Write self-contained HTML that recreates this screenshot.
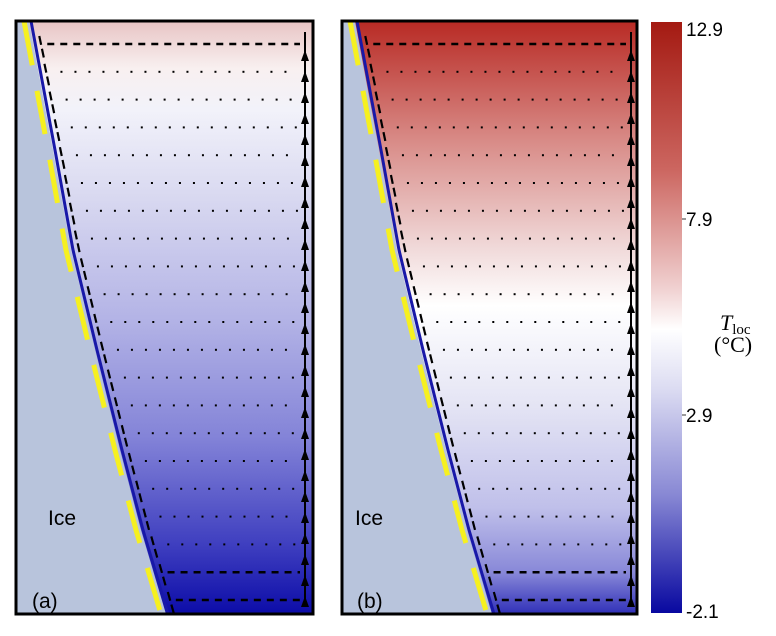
<!DOCTYPE html>
<html><head><meta charset="utf-8"><style>
body{margin:0;background:#fff;width:776px;height:636px;overflow:hidden;font-family:"Liberation Sans",sans-serif}
svg{position:absolute;left:0;top:0}
</style></head><body>
<svg id="s" width="776" height="636" xmlns="http://www.w3.org/2000/svg">
<defs>
<linearGradient id="ga" x1="0" y1="0" x2="0" y2="1">
<stop offset="0" stop-color="#e8c4c4"/><stop offset="0.08" stop-color="#f8f0f0"/><stop offset="0.15" stop-color="#f2f2fa"/>
<stop offset="0.3" stop-color="#d8d8f0"/><stop offset="0.5" stop-color="#b4b4e6"/><stop offset="0.7" stop-color="#8484d8"/><stop offset="0.88" stop-color="#4040c0"/><stop offset="1" stop-color="#0c0ca8"/>
</linearGradient>
<linearGradient id="gb" x1="0" y1="0" x2="0" y2="1">
<stop offset="0" stop-color="#b82a24"/><stop offset="0.2" stop-color="#d88a86"/><stop offset="0.38" stop-color="#f0d8d8"/><stop offset="0.48" stop-color="#ffffff"/>
<stop offset="0.65" stop-color="#e4e4f4"/><stop offset="0.82" stop-color="#c0c0ea"/><stop offset="0.93" stop-color="#8888d8"/><stop offset="1" stop-color="#3030b8"/>
</linearGradient>
<linearGradient id="gc" x1="0" y1="0" x2="0" y2="1">
<stop offset="0" stop-color="#a41a12"/><stop offset="0.25" stop-color="#cc6660"/><stop offset="0.45" stop-color="#f0d0d0"/><stop offset="0.52" stop-color="#ffffff"/>
<stop offset="0.62" stop-color="#dcdcf2"/><stop offset="0.8" stop-color="#8888d4"/><stop offset="1" stop-color="#0808a0"/>
</linearGradient>
</defs>
<rect x="16" y="21" width="297" height="593" fill="url(#ga)"/>
<rect x="342" y="21" width="295" height="593" fill="url(#gb)"/>
<rect x="651" y="22" width="31" height="591" fill="url(#gc)"/>
<g id="g"></g>
<rect x="16" y="21" width="297" height="593" fill="none" stroke="#000" stroke-width="3"/>
<rect x="342" y="21" width="295" height="593" fill="none" stroke="#000" stroke-width="3"/>
<line x1="682" y1="219" x2="686" y2="219" stroke="#333"/>
<line x1="682" y1="415" x2="686" y2="415" stroke="#333"/>
<g font-size="19" fill="#000">
<text x="686" y="36">12.9</text><text x="686" y="226">7.9</text><text x="686" y="422">2.9</text><text x="686" y="618">-2.1</text>
<text x="48" y="525" font-size="21">Ice</text><text x="355" y="525" font-size="21">Ice</text>
<text x="32" y="608" font-size="21">(a)</text><text x="357" y="608" font-size="21">(b)</text>
</g>
<text x="720" y="330" font-family="Liberation Serif,serif" font-size="22" font-style="italic">T<tspan font-style="normal" font-size="15" dy="4">loc</tspan></text>
<text x="714" y="352" font-family="Liberation Serif,serif" font-size="22">(°C)</text>
</svg>
<script>
var g=document.getElementById('g'),h='';
var K=[[21,29],[150,53],[250,71],[350,95],[450,120],[530,141],[614,166]];
function bx(y){for(var i=0;i<K.length-1;i++){if(y<=K[i+1][0]||i==K.length-2){var a=K[i],b=K[i+1];return a[1]+(b[1]-a[1])*(y-a[0])/(b[0]-a[0]);}}}
[0,326].forEach(function(o){
 var pts=[];
 for(var y=21;y<=614;y+=4)pts.push((bx(y)+o)+','+y);
 h+='<polygon points="'+(16+o)+',21 '+pts.join(' ')+' '+(16+o)+',614" fill="#b8c4dc"/>';
 h+='<polyline points="'+pts.map(function(p){var a=p.split(',');return (+a[0]+2)+','+a[1]}).join(' ')+'" fill="none" stroke="#1818a8" stroke-width="3"/>';
 var yp=[];for(var y=22;y<=612;y+=4)yp.push((bx(y)+o-5)+','+y);
 h+='<polyline points="'+yp.join(' ')+'" fill="none" stroke="#f6f020" stroke-width="5" stroke-dasharray="44,26"/>';
 for(var r=0;r<21;r++){
  var y=44+r*27.8;
  if(r==0||r>=19){h+='<line x1="'+(bx(y)+o+14)+'" y1="'+y+'" x2="'+(300+o)+'" y2="'+y+'" stroke="#000" stroke-width="2.5" stroke-dasharray="7,6"/>';}
  else{for(var x=bx(y)+o+22;x<296+o;x+=14)h+='<rect x="'+x+'" y="'+(y-1)+'" width="2" height="2" fill="#000"/>';}
  h+='<line x1="'+(bx(y)+o+6)+'" y1="'+(y-8)+'" x2="'+(bx(y+14)+o+8)+'" y2="'+(y+14)+'" stroke="#000" stroke-width="2.2" stroke-dasharray="9,4"/>';
 }
 h+='<line x1="'+(305+o)+'" y1="600" x2="'+(305+o)+'" y2="32" stroke="#000" stroke-width="2"/>';
 for(var y=50;y<600;y+=21)h+='<polygon points="'+(305+o)+','+y+' '+(301+o)+','+(y+11)+' '+(309+o)+','+(y+11)+'" fill="#000"/>';
});
g.innerHTML=h;
</script>
</body></html>
